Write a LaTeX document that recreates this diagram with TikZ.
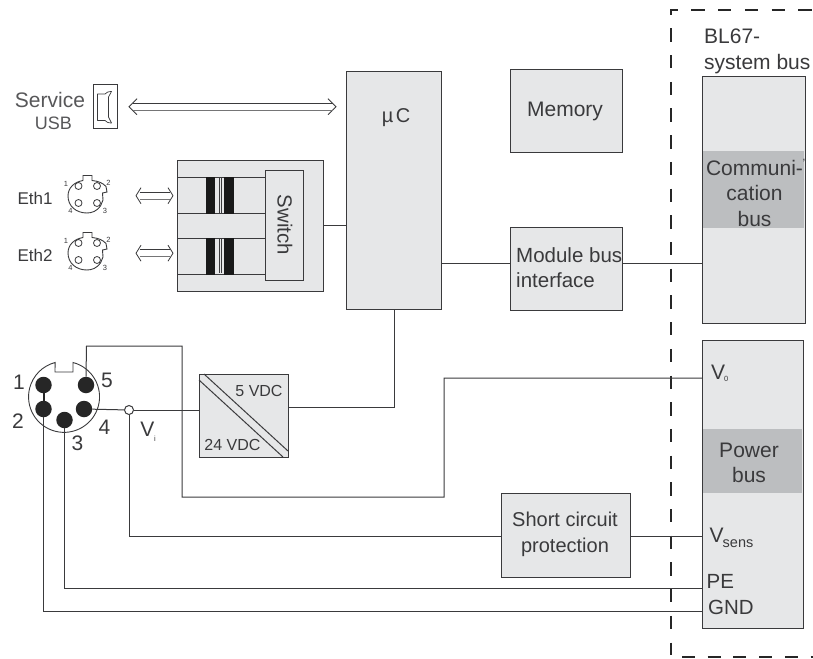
\documentclass[tikz,border=0pt]{standalone}
\usepackage{fontspec}
\setmainfont{Liberation Sans}
\usetikzlibrary{calc}
\definecolor{ink}{HTML}{3A3A3C}
\definecolor{boxfill}{HTML}{E6E7E8}
\definecolor{bandfill}{HTML}{BCBEC0}
\newcommand{\fs}[1]{\fontsize{#1}{#1}\selectfont}
\tikzset{
  wire/.style={draw=ink,line width=1pt},
  blockbox/.style={draw=ink,fill=boxfill,line width=1.1pt,inner sep=0pt,anchor=north west},
  band/.style={fill=bandfill,inner sep=0pt,anchor=north west},
  lbl/.style={text=ink,inner sep=0pt,font=\fs{21},align=center},
  tiny/.style={text=ink,inner sep=0pt,font=\fs{7.5}},
  pin/.style={circle,fill=black!85,minimum size=16.5pt,inner sep=0pt},
  hole/.style={circle,draw=ink,line width=.8pt,minimum size=7pt,inner sep=0pt},
  boundary/.style={draw=black!85,line width=2.8pt}
}
\newcommand{\dblarrow}[5]{% name, x1, x2, ytop, head length
  \coordinate (#1l) at (#2,#4+3.7);
  \coordinate (#1r) at (#3,#4+3.7);
  \draw[draw=ink,line width=.8pt,line join=miter] ($(#1l)+(#5,-8)$) -- (#1l) -- ($(#1l)+(#5,8)$);
  \draw[draw=ink,line width=.8pt,line join=miter] ($(#1r)+(-#5,-8)$) -- (#1r) -- ($(#1r)+(-#5,8)$);
  \draw[draw=ink,line width=.8pt] ($(#1l)+(3.5,-3.7)$) -- ($(#1r)+(-3.5,-3.7)$);
  \draw[draw=ink!70,line width=1.1pt] ($(#1l)+(3.5,3.7)$) -- ($(#1r)+(-3.5,3.7)$);
}
\newcommand{\ethplug}[3]{% name, yoffset, label
  \begin{scope}[shift={(0,#2)}]
    \draw[draw=ink,line width=.9pt]
      (83,180.5) -- (83,175.5) -- (92,175.5) -- (92,180.5)
      .. controls (98,181) and (103,183) .. (106,186.5)
      -- (107,192) -- (102.5,193) -- (103,200) -- (100.5,206)
      .. controls (97,211) and (92,213) .. (87,213)
      .. controls (76,213) and (68,206) .. (68,196)
      .. controls (68,188) and (74,182) .. (83,180.5);
    \node[hole] (#1h1) at (78.5,186) {};
    \node[hole] (#1h2) at (97,186) {};
    \node[hole] (#1h3) at (97,203) {};
    \node[hole] (#1h4) at (78.5,203) {};
    \node[tiny] (#1n1) at (66,184) {1};
    \node[tiny] (#1n2) at (108.5,183) {2};
    \node[tiny] (#1n3) at (105,210.5) {3};
    \node[tiny] (#1n4) at (70.5,210.5) {4};
    \node[lbl,font=\fs{17}] (#1txt) at (35,198) {#3};
  \end{scope}
}
\newcommand{\transformer}[2]{% y1, y2
  \draw[wire] (177,#1) -- (265,#1);
  \draw[wire] (177,#2) -- (265,#2);
  \fill[black!90] (206,#1-.5) rectangle (215,#2+.5);
  \fill[black!90] (224,#1-.5) rectangle (234,#2+.5);
  \draw[draw=ink,line width=.5pt] (219.3,#1+1) -- (219.3,#2-1);
  \draw[draw=ink,line width=.5pt] (220.8,#1+1) -- (220.8,#2-1);
}
\begin{document}
\begin{tikzpicture}[x=1pt,y=-1pt]
\useasboundingbox (0,0) rectangle (813,658);

% dashed system boundary
\coordinate (dtr) at (813,10);
\coordinate (dtl) at (670,10);
\coordinate (dvt) at (671,10);
\coordinate (dvb) at (671,655);
\coordinate (dbl) at (682,657);
\coordinate (dbr) at (813,657);
\draw[boundary,dash pattern=on 13.3pt off 13.4pt,dash phase=5.3pt] (dtl) -- (dtr);
\draw[boundary,dash pattern=on 13.3pt off 13.4pt,dash phase=8.3pt] (dvt) -- (dvb);
\draw[boundary,dash pattern=on 13pt off 12.7pt] (dbl) -- (dbr);

% blocks
\node[blockbox,minimum width=95pt,minimum height=238pt] (muc) at (346,71) {};
\node[lbl,font=\fs{20}] (muct) at (396,118) {µ\hspace{2.5pt}C};
\node[blockbox,minimum width=112pt,minimum height=83pt] (mem) at (510,69) {};
\node[lbl] (memt) at (565,111) {Memory};
\node[blockbox,minimum width=112pt,minimum height=83pt] (mbi) at (510,227) {};
\node[lbl,align=left,anchor=north west,font=\fs{20.5}] (mbit) at (516,247) {Module bus\\[4.5pt]interface};
\node[blockbox,minimum width=129pt,minimum height=84pt] (scp) at (501,493) {};
\node[lbl,font=\fs{20}] (scpt) at (565,534) {Short circuit\\[6pt]protection};
\node[blockbox,minimum width=146pt,minimum height=131pt] (swo) at (177,160) {};
\node[blockbox,minimum width=89pt,minimum height=83pt] (dc) at (199,374) {};
\node[blockbox,minimum width=103pt,minimum height=247pt] (comm) at (702,76) {};
\node[band,minimum width=101pt,minimum height=77pt] (commb) at (703,151) {};
\node[blockbox,minimum width=101pt,minimum height=288pt] (pow) at (702,340) {};
\node[band,minimum width=98.5pt,minimum height=64pt] (powb) at (703,429) {};

% switch internals
\transformer{177}{213.5}
\transformer{238}{274}
\node[blockbox,minimum width=38pt,minimum height=110pt] (sw) at (265,170) {};
\node[lbl,rotate=-90,font=\fs{20.4}] (swt) at (285,225) {Switch};

% DC converter
\coordinate (dca) at (204,374);
\coordinate (dcb) at (288,451);
\coordinate (dcc) at (199,380);
\coordinate (dcd) at (283,457);
\draw[draw=ink,line width=1pt] (dca) -- (dcb);
\draw[draw=ink,line width=1pt] (dcc) -- (dcd);
\node[lbl,font=\fs{16}] (v5) at (259,391) {5 VDC};
\node[lbl,font=\fs{16}] (v24) at (232.5,445) {24 VDC};

% service USB
\node[lbl,text=ink!85,font=\fs{21}] (srv) at (50,100) {Service};
\node[lbl,text=ink!85,font=\fs{18}] (usb) at (53.5,123) {USB};
\node[draw=ink,line width=.8pt,inner sep=0pt,anchor=north west,minimum width=24pt,minimum height=44pt] (usbb) at (93,84) {};
\draw[draw=ink,line width=.7pt,line join=round]
  (97.5,94) -- (105,94) .. controls (106.5,92.5) and (108,91.5) .. (111.5,91.5) -- (108.5,97) -- (108.5,117) -- (111.5,123) .. controls (108,123) and (106.5,122) .. (105,120.5) -- (97.5,120.5) -- cycle;
\dblarrow{ua}{129}{336}{103}{8}

% Ethernet
\ethplug{ea}{0}{Eth1}
\ethplug{eb}{57}{Eth2}
\dblarrow{eaa}{136}{173}{192}{5}
\dblarrow{eba}{136}{173}{249.5}{5}

% M12 plug
\coordinate (plugr) at (73,362.5);
\draw[draw=ink,line width=.9pt] (plugr) arc[start angle=-75.4,end angle=255.4,radius=35.5] -- (55,372) -- (73,372) -- cycle;
\node[pin] (p1) at (43.5,385) {};
\node[pin] (p2) at (43.5,409) {};
\node[pin] (p3) at (64.5,420) {};
\node[pin] (p4) at (84,409) {};
\node[pin] (p5) at (86,385) {};
\draw[draw=black!85,line width=2pt] (p1) -- (p2);
\node[lbl] (n1) at (19,382) {1};
\node[lbl] (n2) at (18,421) {2};
\node[lbl] (n3) at (77.5,443) {3};
\node[lbl] (n4) at (104.5,427) {4};
\node[lbl] (n5) at (107,380) {5};

% junction and wires
\node[circle,draw=ink,fill=white,line width=1pt,minimum size=9pt,inner sep=0pt] (jn) at (129,410) {};
\coordinate (c5a) at (86.5,346);
\coordinate (c5b) at (182,346);
\coordinate (c5c) at (182,497);
\coordinate (c5d) at (444,497);
\coordinate (c5e) at (444,378);
\draw[wire,line join=miter] (p5.north) -- (c5a) -- (c5b) -- (c5c) -- (c5d) -- (c5e) -- (pow.west |- c5e);
\draw[wire] (p4) -- (jn);
\draw[wire] (jn) -- (dc.west |- jn);
\draw[wire] (jn) |- (scp.west |- 0,536.5);
\draw[wire] (scp.east |- 0,536.5) -- (pow.west |- 0,536.5);
\draw[wire] (p3) |- (pow.west |- 0,588);
\draw[wire] (p2) |- (pow.west |- 0,611);
\draw[wire] (swo.east |- 0,225) -- (muc.west |- 0,225);
\draw[wire] (muc.east |- 0,263) -- (mbi.west |- 0,263);
\draw[wire] (mbi.east |- 0,263) -- (comm.west |- 0,263);
\draw[wire] (dc.east |- 0,407) -| (muc.south);

% labels
\node[lbl] (vi) at (147.5,429.5) {V};
\node[tiny] (vis) at (155,438.5) {i};
\node[lbl,align=left,anchor=north west] (sys) at (704,29) {BL67-\\[4.5pt]system bus};
\node[lbl] (cb) at (754.5,193) {Communi-\\[4.5pt]cation\\[4.5pt]bus};
\node[lbl,font=\fs{12}] (cbt) at (804,163) {'};
\node[lbl] (pb) at (749,463) {Power\\[4.5pt]bus};
\node[lbl,anchor=west] (v0) at (711,372) {V};
\node[tiny,anchor=west] (v0s) at (724,379) {0};
\node[lbl,anchor=west] (vs) at (709.5,535) {V};
\node[lbl,font=\fs{14.5},anchor=west] (vss) at (722.5,544) {sens};
\node[lbl,anchor=west,font=\fs{20.5}] (pe) at (706.5,581) {PE};
\node[lbl,anchor=west,font=\fs{20.5}] (gnd) at (708,607) {GND};
\end{tikzpicture}
\end{document}
